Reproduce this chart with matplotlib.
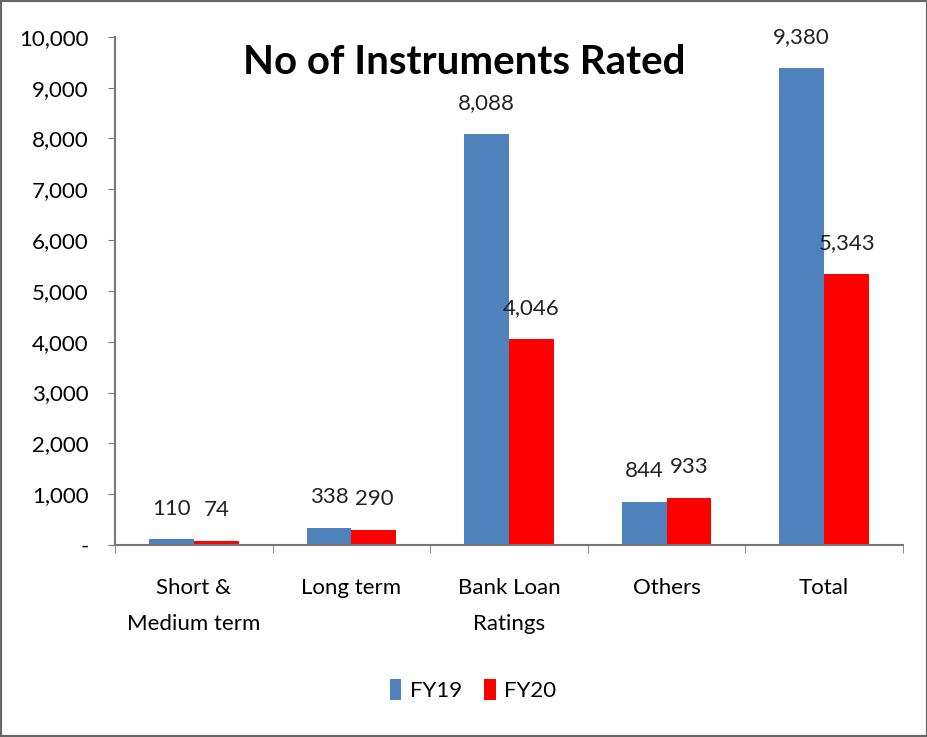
import matplotlib.pyplot as plt
import numpy as np
from matplotlib.ticker import FuncFormatter

categories = ['Short &\nMedium term', 'Long term', 'Bank Loan\nRatings', 'Others', 'Total']
fy19 = [110, 338, 8088, 844, 9380]
fy20 = [74, 290, 4046, 933, 5343]

plt.rcParams['font.family'] = ['Lato', 'DejaVu Sans']

fig = plt.figure(figsize=(9.28, 7.37), dpi=100)
ax = fig.add_axes([0.124, 0.2605, 0.849, 0.6895])

x = np.arange(len(categories))
w = 0.285
b1 = ax.bar(x - w/2, fy19, w, color='#4f81bd', label='FY19')
b2 = ax.bar(x + w/2, fy20, w, color='#ff0000', label='FY20')

for bars in (b1, b2):
    for r in bars:
        ax.annotate(f'{int(r.get_height()):,}', (r.get_x() + r.get_width()/2, r.get_height()),
                    xytext=(0, 15), textcoords='offset points', ha='center', va='bottom',
                    fontsize=16, color='#222222')

ax.set_xlim(-0.5, len(categories) - 0.5)
ax.set_ylim(0, 10000)
ax.set_yticks(np.arange(0, 10001, 1000))
ax.yaxis.set_major_formatter(FuncFormatter(lambda v, p: '-' if v == 0 else f'{int(v):,}'))
ax.set_xticks(x)
ax.set_xticklabels(categories, fontsize=16, linespacing=2.0)
ax.set_xticks(np.arange(-0.5, len(categories)), minor=True)
ax.tick_params(axis='x', which='major', length=0, pad=24)
ax.tick_params(axis='x', which='minor', length=6, color='#777777')
ax.tick_params(axis='y', labelsize=16, length=5, color='#777777', pad=14)

for s in ['top', 'right']:
    ax.spines[s].set_visible(False)
for s in ['left', 'bottom']:
    ax.spines[s].set_color('#777777')
    ax.spines[s].set_linewidth(1.5)

ax.text(0.443, 0.985, 'No of Instruments Rated', transform=ax.transAxes, ha='center', va='top',
        fontsize=29, fontweight='bold')

fig.legend(loc='center', bbox_to_anchor=(0.51, 0.064), ncol=2, frameon=False, fontsize=16,
           handlelength=0.5, handleheight=1.1, handletextpad=0.4, columnspacing=1.0)

fig.patches.append(plt.Rectangle((0, 0), 1, 1, transform=fig.transFigure, fill=False,
                                 edgecolor='#666666', linewidth=3))

plt.savefig('out.png')
